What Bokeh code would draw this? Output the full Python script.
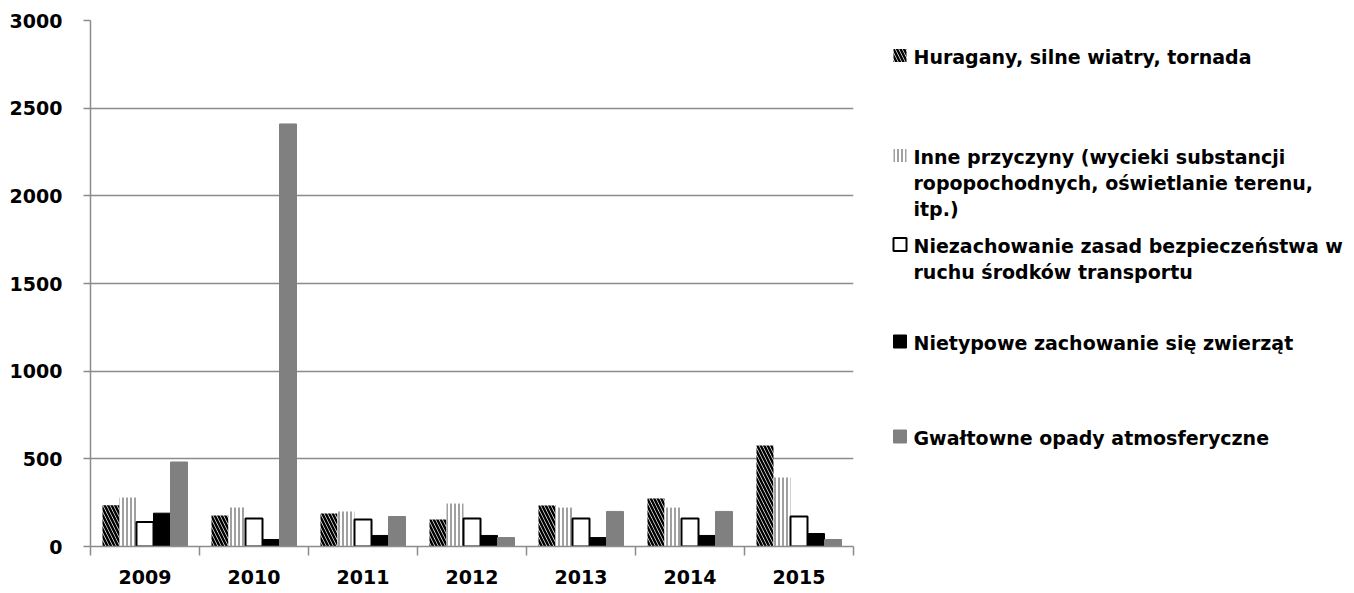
from bokeh.plotting import figure
from bokeh.models import Range1d, FixedTicker, ColumnDataSource
from bokeh.layouts import row
from bokeh.embed import file_html
from bokeh.resources import INLINE
from bokeh.core.properties import value

years = ["2009", "2010", "2011", "2012", "2013", "2014", "2015"]
huragany = [235, 177, 188, 154, 234, 274, 576]
inne = [280, 222, 200, 245, 222, 222, 394]
niezachowanie = [140, 160, 154, 160, 160, 160, 171]
nietypowe = [190, 40, 63, 63, 51, 63, 74]
gwaltowne = [482, 2410, 171, 51, 200, 200, 40]

series_labels = [
    ["Huragany, silne wiatry, tornada"],
    ["Inne przyczyny (wycieki substancji", "ropopochodnych, oświetlanie terenu,", "itp.)"],
    ["Niezachowanie zasad bezpieczeństwa w", "ruchu środków transportu"],
    ["Nietypowe zachowanie się zwierząt"],
    ["Gwałtowne opady atmosferyczne"],
]
y_ticks = [0, 500, 1000, 1500, 2000, 2500, 3000]

FONT = "DejaVu Sans"
FS = "19px"
GRID = "#8c8c8c"

styles = [
    dict(fill_color="white", line_color=None, hatch_pattern="left_diagonal_line",
         hatch_color="black", hatch_scale=7, hatch_weight=2.5),
    dict(fill_color="white", line_color=None, hatch_pattern="vertical_line",
         hatch_color="#808080", hatch_scale=4, hatch_weight=1.5),
    dict(fill_color="white", line_color="black", line_width=2),
    dict(fill_color="black", line_color="black"),
    dict(fill_color="#808080", line_color="#808080"),
]

p = figure(width=863, height=590, x_range=Range1d(0, 7), y_range=Range1d(0, 3000),
           output_backend="svg", toolbar_location=None,
           min_border_left=90, min_border_right=10, min_border_top=20, min_border_bottom=44)
p.outline_line_color = None
p.background_fill_color = "white"
p.xgrid.visible = False
p.ygrid.grid_line_color = GRID
p.ygrid.grid_line_width = 1.5

bw = 0.156
offsets = [-2 * bw, -bw, 0, bw, 2 * bw]
all_series = [huragany, inne, niezachowanie, nietypowe, gwaltowne]
for s, off, st in zip(all_series, offsets, styles):
    src = ColumnDataSource(dict(x=[i + 0.5 + off for i in range(len(years))], top=s))
    p.vbar(x="x", top="top", bottom=0, width=bw, source=src, **st)

p.yaxis.ticker = FixedTicker(ticks=y_ticks)
p.yaxis.axis_line_color = GRID
p.yaxis.axis_line_width = 1.5
p.yaxis.major_tick_line_color = GRID
p.yaxis.major_tick_line_width = 1.5
p.yaxis.major_tick_out = 7
p.yaxis.major_tick_in = 0
p.yaxis.minor_tick_line_color = None
p.yaxis.major_label_standoff = 21
p.yaxis.major_label_text_font = FONT
p.yaxis.major_label_text_font_style = "bold"
p.yaxis.major_label_text_font_size = FS
p.yaxis.major_label_text_color = "black"

p.xaxis.ticker = FixedTicker(ticks=[i + 0.5 for i in range(len(years))],
                             minor_ticks=list(range(len(years) + 1)))
p.xaxis.major_label_overrides = {i + 0.5: y for i, y in enumerate(years)}
p.xaxis.axis_line_color = GRID
p.xaxis.axis_line_width = 1.5
p.xaxis.major_tick_line_color = None
p.xaxis.major_tick_out = 0
p.xaxis.major_tick_in = 0
p.xaxis.minor_tick_line_color = GRID
p.xaxis.minor_tick_line_width = 1.5
p.xaxis.minor_tick_out = 9
p.xaxis.minor_tick_in = 0
p.xaxis.major_label_standoff = 14
p.xaxis.major_label_text_font = FONT
p.xaxis.major_label_text_font_style = "bold"
p.xaxis.major_label_text_font_size = FS
p.xaxis.major_label_text_color = "black"

# legend figure (pixel coordinates: frame aligned with main frame, y 20..546)
LW, LH = 487, 590
lg = figure(width=LW, height=LH, x_range=Range1d(0, LW), y_range=Range1d(546, 20),
            output_backend="svg", toolbar_location=None,
            min_border_left=0, min_border_right=0, min_border_top=20, min_border_bottom=44)
lg.axis.visible = False
lg.grid.visible = False
lg.outline_line_color = None

item_y = [55, 155, 244, 341, 436]
sw_x0 = 30
sw = 13
text_x = 50
line_h = 26
for lbls, yy, st in zip(series_labels, item_y, styles):
    lg.quad(left=[sw_x0], right=[sw_x0 + sw], top=[yy - sw / 2], bottom=[yy + sw / 2], **st)
    xs = [text_x] * len(lbls)
    ys = [yy + 1 + k * line_h for k in range(len(lbls))]
    lg.text(x=xs, y=ys, text=lbls, text_font=value(FONT), text_font_style="bold",
            text_font_size=FS, text_baseline="middle", text_align="left", text_color="black")

layout = row(p, lg, spacing=0)
open("out.html", "w").write(file_html(layout, INLINE))
